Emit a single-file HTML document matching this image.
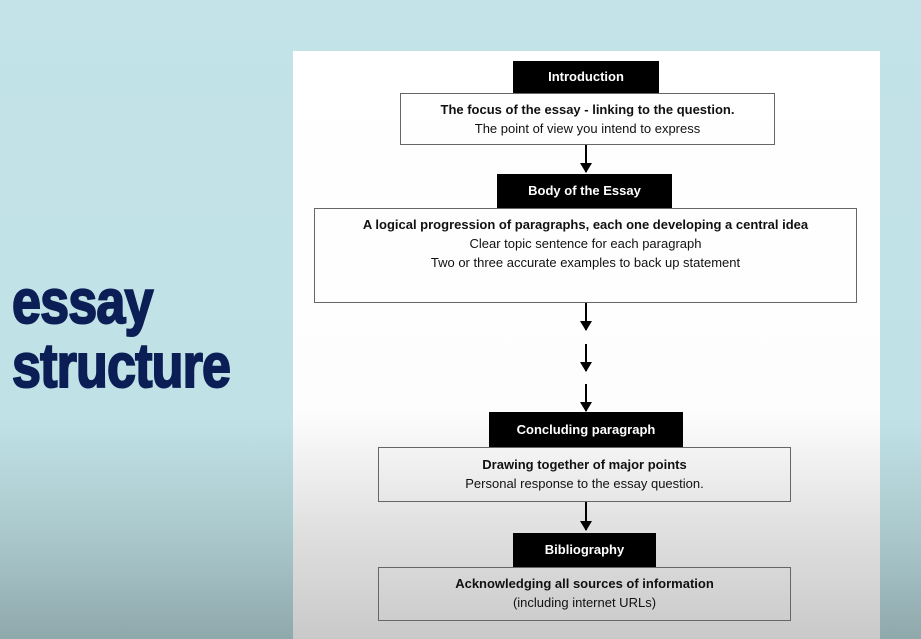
<!DOCTYPE html>
<html><head><meta charset="utf-8"><style>
html,body{margin:0;padding:0}
body{width:921px;height:639px;position:relative;overflow:hidden;
background:linear-gradient(to bottom,#c3e3e8 0px,#c0e1e6 420px,#a9c7cb 540px,#8fa8ac 639px);
font-family:"Liberation Sans",sans-serif}
.t{position:absolute;left:12px;color:#0b1e55;font-family:"Liberation Sans Narrow","Liberation Sans",sans-serif;font-weight:bold;font-size:62px;line-height:62px;transform-origin:0 0;letter-spacing:-1px;-webkit-text-stroke:2px #0b1e55}
.panel{position:absolute;left:293px;top:51px;width:587px;height:588px;
background:linear-gradient(to bottom,#fff 0px,#fdfdfd 360px,#e2e2e2 470px,#c9c9c9 588px)}
.h{position:absolute;background:#000;color:#fff;font-weight:bold;font-size:13px;text-align:center;box-sizing:border-box}
.b{position:absolute;border:1.5px solid #666;box-sizing:border-box;text-align:center;font-size:13px;color:#111;line-height:19px}
.b .s{font-weight:bold}
.a{position:absolute;width:2px;background:#000}
.a:after{content:"";position:absolute;left:-5px;bottom:-1px;border-left:6px solid transparent;border-right:6px solid transparent;border-top:10px solid #000}
</style></head><body>
<div class="t" style="top:272px;transform:scaleX(0.84)">essay</div>
<div class="t" style="top:336px;transform:scaleX(0.84)">structure</div>
<div class="panel"></div>

<div class="h" style="left:513px;top:61px;width:146px;height:32px;line-height:32px">Introduction</div>
<div class="b" style="left:400px;top:93px;width:375px;height:52px;padding-top:6px"><div class="s">The focus of the essay - linking to the question.</div><div>The point of view you intend to express</div></div>
<div class="a" style="left:585px;top:145px;height:27px"></div>

<div class="h" style="left:497px;top:174px;width:175px;height:34px;line-height:34px">Body of the Essay</div>
<div class="b" style="left:314px;top:208px;width:543px;height:95px;padding-top:6px"><div class="s">A logical progression of paragraphs, each one developing a central idea</div><div>Clear topic sentence for each paragraph</div><div>Two or three accurate examples to back up statement</div></div>
<div class="a" style="left:585px;top:303px;height:27px"></div>
<div class="a" style="left:585px;top:344px;height:27px"></div>
<div class="a" style="left:585px;top:384px;height:27px"></div>

<div class="h" style="left:489px;top:412px;width:194px;height:35px;line-height:35px">Concluding paragraph</div>
<div class="b" style="left:378px;top:447px;width:413px;height:55px;padding-top:7px"><div class="s">Drawing together of major points</div><div>Personal response to the essay question.</div></div>
<div class="a" style="left:585px;top:502px;height:28px"></div>

<div class="h" style="left:513px;top:533px;width:143px;height:34px;line-height:34px">Bibliography</div>
<div class="b" style="left:378px;top:567px;width:413px;height:54px;padding-top:6px"><div class="s">Acknowledging all sources of information</div><div>(including internet URLs)</div></div>
</body></html>
